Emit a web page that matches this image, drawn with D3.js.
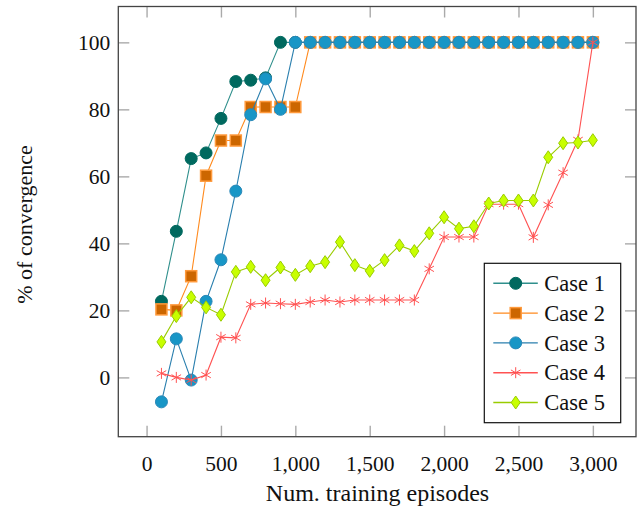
<!DOCTYPE html>
<html>
<head>
<meta charset="utf-8">
<script src="https://cdn.jsdelivr.net/npm/d3@7"></script>
<style>
  body { margin: 0; background: #fff; }
  svg { display: block; }
</style>
</head>
<body>
<div id="chart"></div>
<script>
// training episodes (x) and % of convergence per case
const episodes = [100, 200, 300, 400, 500, 600, 700, 800, 900, 1000,
  1100, 1200, 1300, 1400, 1500, 1600, 1700, 1800, 1900, 2000,
  2100, 2200, 2300, 2400, 2500, 2600, 2700, 2800, 2900, 3000];

const case1 = [22.7, 43.6, 65.3, 67.0, 77.3, 88.3, 88.7, 89.4, 100, 100,
  100, 100, 100, 100, 100, 100, 100, 100, 100, 100,
  100, 100, 100, 100, 100, 100, 100, 100, 100, 100];
const case2 = [20.3, 20.0, 30.2, 60.2, 70.7, 70.7, 80.7, 80.7, 80.7, 80.7,
  100, 100, 100, 100, 100, 100, 100, 100, 100, 100,
  100, 100, 100, 100, 100, 100, 100, 100, 100, 100];
const case3 = [-7.3, 11.5, -0.8, 22.7, 35.1, 55.6, 78.4, 89.1, 80.0, 100,
  100, 100, 100, 100, 100, 100, 100, 100, 100, 100,
  100, 100, 100, 100, 100, 100, 100, 100, 100, 100];
const case4 = [1.2, 0.0, -0.8, 0.7, 12.0, 11.8, 21.8, 22.2, 22.0, 21.8,
  22.5, 23.1, 22.5, 23.1, 23.1, 23.1, 23.1, 23.1, 32.4, 41.9,
  41.9, 41.9, 51.7, 51.7, 51.7, 41.8, 51.5, 61.1, 70.9, 100];
const case5 = [10.6, 18.3, 23.9, 20.9, 18.7, 31.5, 33.0, 29.0, 32.8, 30.6,
  33.2, 34.4, 40.4, 33.5, 31.8, 35.0, 39.4, 37.7, 43.0, 47.8,
  44.4, 45.1, 51.9, 52.8, 52.8, 52.8, 65.7, 69.9, 70.1, 70.8];

const xTicks = [0, 500, 1000, 1500, 2000, 2500, 3000];
const yTicks = [0, 20, 40, 60, 80, 100];

const SERIES = [
  { name: 'Case 1', values: case1, mark: 'circle', line: '#2f8f8c', fill: '#00695f', stroke: '#00695f' },
  { name: 'Case 2', values: case2, mark: 'square', line: '#ff8a1e', fill: '#cc6600', stroke: '#ff9a3c' },
  { name: 'Case 3', values: case3, mark: 'circle', line: '#2a7fae', fill: '#1896c6', stroke: '#2a88b8' },
  { name: 'Case 4', values: case4, mark: 'asterisk', line: '#ff5252', fill: 'none', stroke: '#ff5252' },
  { name: 'Case 5', values: case5, mark: 'diamond', line: '#99cc00', fill: '#c8ff00', stroke: '#99cc00' },
];

const FONT = "'Liberation Serif', 'Times New Roman', serif";

const W = 643;
const H = 510;
const plot = { left: 118.3, right: 636, top: 6.5, bottom: 436.7 };
const TICK = 11;

const svg = d3.select('#chart').append('svg')
  .attr('width', W)
  .attr('height', H);

const x = d3.scaleLinear().domain([-190, 3290]).range([plot.left, plot.right]);
const y = d3.scaleLinear().domain([-17.7, 110.7]).range([plot.bottom, plot.top]);

const fmt = d3.format(',');

function font(sel, size) {
  sel.style('font-family', FONT).style('font-size', `${size}px`).attr('fill', '#111');
}

function styleAxis(g) {
  g.select('.domain').remove();
  g.selectAll('.tick line').attr('stroke', '#aaa').attr('stroke-width', 1.4);
  g.selectAll('.tick text').call(font, 21.5);
}

svg.append('g')
  .attr('transform', `translate(0,${plot.bottom})`)
  .call(d3.axisBottom(x).tickValues(xTicks).tickFormat(fmt).tickSize(-TICK).tickPadding(19))
  .call(styleAxis);

svg.append('g')
  .attr('transform', `translate(0,${plot.top})`)
  .call(d3.axisTop(x).tickValues(xTicks).tickFormat('').tickSize(-TICK))
  .call(styleAxis);

svg.append('g')
  .attr('transform', `translate(${plot.left},0)`)
  .call(d3.axisLeft(y).tickValues(yTicks).tickSize(-TICK).tickPadding(8))
  .call(styleAxis);

svg.append('g')
  .attr('transform', `translate(${plot.right},0)`)
  .call(d3.axisRight(y).tickValues(yTicks).tickFormat('').tickSize(-TICK))
  .call(styleAxis);

// axis titles
svg.append('text')
  .attr('x', 377.5)
  .attr('y', 501)
  .attr('text-anchor', 'middle')
  .call(font, 24)
  .text('Num. training episodes');

svg.append('text')
  .attr('transform', 'translate(32,224.5) rotate(-90)')
  .attr('text-anchor', 'middle')
  .call(font, 22)
  .text('% of convergence');

function drawMark(sel, s) {
  if (s.mark === 'circle') {
    sel.append('circle').attr('r', 6)
      .attr('fill', s.fill).attr('stroke', s.stroke).attr('stroke-width', 1);
  } else if (s.mark === 'square') {
    sel.append('rect').attr('x', -5.5).attr('y', -5.5).attr('width', 11).attr('height', 11)
      .attr('fill', s.fill).attr('stroke', s.stroke).attr('stroke-width', 1.5);
  } else if (s.mark === 'diamond') {
    sel.append('path').attr('d', 'M0,-6.5L4.5,0L0,6.5L-4.5,0Z')
      .attr('fill', s.fill).attr('stroke', s.stroke).attr('stroke-width', 1);
  } else {
    const r = 5.5;
    const arms = [90, 30, -30].map((a) => {
      const t = (a * Math.PI) / 180;
      const dx = r * Math.cos(t);
      const dy = r * Math.sin(t);
      return `M${-dx},${dy}L${dx},${-dy}`;
    }).join('');
    sel.append('path').attr('d', arms)
      .attr('fill', 'none').attr('stroke', s.stroke).attr('stroke-width', 1);
  }
}

const line = d3.line()
  .x((d) => x(d[0]))
  .y((d) => y(d[1]));

const plotG = svg.append('g');

SERIES.forEach((s) => {
  const pts = episodes.map((e, i) => [e, s.values[i]]);
  const g = plotG.append('g');
  g.append('path')
    .datum(pts)
    .attr('d', line)
    .attr('fill', 'none')
    .attr('stroke', s.line)
    .attr('stroke-width', 1.1);
  g.selectAll('.mk')
    .data(pts)
    .join('g')
    .attr('class', 'mk')
    .attr('transform', (d) => `translate(${x(d[0])},${y(d[1])})`)
    .each(function () { drawMark(d3.select(this), s); });
});

// frame
svg.append('rect')
  .attr('x', plot.left).attr('y', plot.top)
  .attr('width', plot.right - plot.left).attr('height', plot.bottom - plot.top)
  .attr('fill', 'none')
  .attr('stroke', '#444')
  .attr('stroke-width', 1.3);

// legend
const leg = { x: 484.3, y: 263.3, w: 136.4, h: 159.4, row0: 283.3, step: 29.8 };
const legG = svg.append('g');
legG.append('rect')
  .attr('x', leg.x).attr('y', leg.y).attr('width', leg.w).attr('height', leg.h)
  .attr('fill', '#fff').attr('stroke', '#111').attr('stroke-width', 1.2);

SERIES.forEach((s, i) => {
  const cy = leg.row0 + i * leg.step;
  const row = legG.append('g').attr('transform', `translate(0,${cy})`);
  row.append('line')
    .attr('x1', leg.x + 9).attr('x2', leg.x + 53.5)
    .attr('stroke', s.line).attr('stroke-width', 1.4);
  const mk = row.append('g').attr('transform', `translate(${leg.x + 31.4},0)`);
  drawMark(mk, s);
  row.append('text')
    .attr('x', leg.x + 60)
    .attr('dy', '0.34em')
    .call(font, 22.5)
    .text(s.name);
});
</script>
</body>
</html>
